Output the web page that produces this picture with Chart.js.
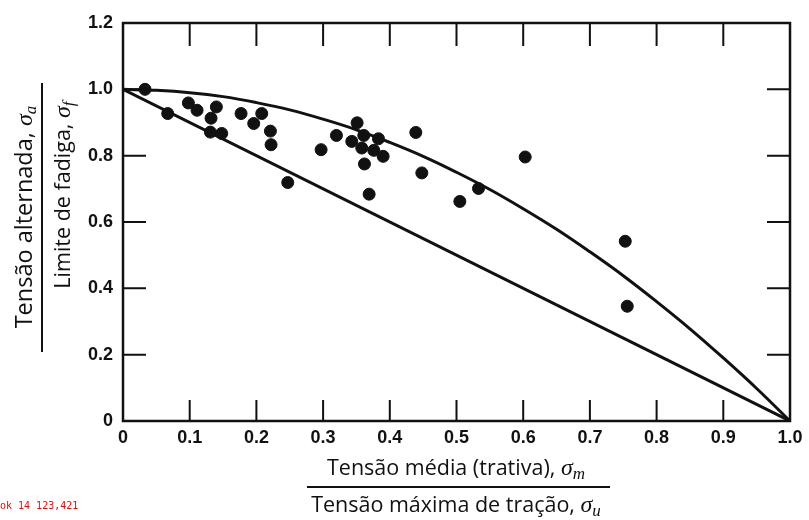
<!DOCTYPE html>
<html>
<head>
<meta charset="utf-8">
<script src="https://cdn.jsdelivr.net/npm/chart.js@4/dist/chart.umd.min.js"></script>
<style>
  body { margin: 0; background: #fff; }
  #wrap { position: relative; width: 809px; height: 520px; }
  .t { position: absolute; width: 400px; text-align: center; white-space: nowrap; font-family: "Open Sans", sans-serif; font-size: 21.5px; color: #111; line-height: 24px; height: 24px; }
  .t .s { font-family: "Liberation Serif", serif; font-style: italic; font-size: 24px; }
  .t sub { font-family: "Liberation Serif", serif; font-style: italic; font-size: 17px; vertical-align: -4px; line-height: 0; }
  .v { transform: rotate(-90deg); }
  .bar { position: absolute; background: #111; }
  #dbg { position: absolute; left: 0; top: 500px; font: 10px monospace; color: red; }
</style>
</head>
<body>
<div id="wrap">
  <canvas id="grafico" width="809" height="520"></canvas>
  <div class="t" style="left:256px; top:455px;">Tensão média (trativa), <span class="s">σ</span><sub>m</sub></div>
  <div class="bar" style="left:307px; top:486px; width:303px; height:2px;"></div>
  <div class="t" style="left:256px; top:492px;">Tensão máxima de tração, <span class="s">σ</span><sub>u</sub></div>

  <div class="t v" style="left:-177px; top:205px; font-size:23.5px;">Tensão alternada, <span class="s">σ</span><sub>a</sub></div>
  <div class="bar" style="left:41px; top:83px; width:2px; height:269px;"></div>
  <div class="t v" style="left:-138px; top:183px;">Limite de fadiga, <span class="s">σ</span><sub>f</sub></div>
  <div id="dbg"></div>
</div>
<script>
// pontos experimentais (razão média / razão alternada)
const razaoMedia = [0.033, 0.067, 0.098, 0.111, 0.140, 0.132, 0.131, 0.148, 0.177, 0.196, 0.208,
                    0.221, 0.222, 0.247, 0.297, 0.320, 0.351, 0.343, 0.361, 0.383, 0.358, 0.376,
                    0.390, 0.362, 0.369, 0.439, 0.448, 0.505, 0.533, 0.603, 0.753, 0.756];
const razaoAlternada = [1.000, 0.927, 0.959, 0.937, 0.947, 0.913, 0.871, 0.867, 0.927, 0.897, 0.927,
                        0.874, 0.833, 0.719, 0.818, 0.861, 0.899, 0.843, 0.861, 0.851, 0.823, 0.816,
                        0.798, 0.775, 0.684, 0.870, 0.748, 0.662, 0.701, 0.796, 0.542, 0.346];

// curvas
const curvaX = [0, 0.05, 0.1, 0.15, 0.2, 0.25, 0.3, 0.35, 0.4, 0.45, 0.5,
                0.55, 0.6, 0.65, 0.7, 0.75, 0.8, 0.85, 0.9, 0.95, 1.0];
const gerberY = [1.0, 0.997, 0.99, 0.978, 0.96, 0.938, 0.91, 0.878, 0.84, 0.798, 0.75,
                 0.698, 0.64, 0.578, 0.51, 0.438, 0.36, 0.278, 0.19, 0.098, 0];
const goodmanX = [0, 1.0];
const goodmanY = [1.0, 0];

const xTicks = ["0", "0.1", "0.2", "0.3", "0.4", "0.5", "0.6", "0.7", "0.8", "0.9", "1.0"];
const yTicks = ["0", "0.2", "0.4", "0.6", "0.8", "1.0", "1.2"];

const pares = (xs, ys) => xs.map((x, i) => ({ x, y: ys[i] }));
const log = [];

// moldura e marcas de escala para dentro
const moldura = {
    id: "moldura",
    afterDraw(chart) {
        try {
            const { ctx, chartArea: a } = chart;
            const sx = chart.scales.x, sy = chart.scales.y;
            ctx.save();
            ctx.strokeStyle = "#111111";
            ctx.lineWidth = 2;
            let n = 0;
            xTicks.slice(1, -1).forEach(lbl => {
                const px = sx.getPixelForValue(Number(lbl));
                ctx.beginPath();
                ctx.moveTo(px, a.bottom); ctx.lineTo(px, a.bottom - 21);
                ctx.moveTo(px, a.top); ctx.lineTo(px, a.top + 23);
                ctx.stroke();
                n++;
            });
            yTicks.slice(1, -1).forEach(lbl => {
                const py = sy.getPixelForValue(Number(lbl));
                ctx.beginPath();
                ctx.moveTo(a.left, py); ctx.lineTo(a.left + 23, py);
                ctx.moveTo(a.right, py); ctx.lineTo(a.right - 23, py);
                ctx.stroke();
                n++;
            });
            ctx.lineWidth = 2.5;
            ctx.strokeRect(a.left, a.top, a.right - a.left, a.bottom - a.top);
            ctx.restore();
            log.push("ok " + n + " " + Math.round(a.left) + "," + Math.round(a.bottom));
        } catch (e) {
            log.push("err " + e.message);
        }
        document.getElementById("dbg").textContent = log.join(" | ");
    }
};

new Chart(document.getElementById("grafico").getContext("2d"), {
    type: "scatter",
    data: {
        datasets: [
            {
                label: "Dados",
                data: pares(razaoMedia, razaoAlternada),
                backgroundColor: "#111",
                borderColor: "#111",
                pointRadius: 6,
                pointHoverRadius: 6
            },
            {
                label: "Gerber",
                data: pares(curvaX, gerberY),
                showLine: true,
                borderColor: "#111",
                borderWidth: 3,
                pointRadius: 0,
                tension: 0.4
            },
            {
                label: "Goodman",
                data: pares(goodmanX, goodmanY),
                showLine: true,
                borderColor: "#111",
                borderWidth: 3,
                pointRadius: 0
            }
        ]
    },
    options: {
        responsive: false,
        animation: false,
        layout: { padding: { top: 23, right: 19, left: 0, bottom: 0 } },
        plugins: { legend: { display: false }, tooltip: { enabled: false } },
        scales: {
            x: {
                type: "linear",
                min: 0,
                max: 1,
                afterFit(scale) { scale.height = 99; },
                grid: { display: false, drawTicks: false },
                border: { display: false },
                ticks: {
                    stepSize: 0.1,
                    padding: 6,
                    color: "#111",
                    font: { family: "Liberation Sans", size: 18, weight: "bold" },
                    maxRotation: 0,
                    callback: (v, i) => xTicks[i]
                }
            },
            y: {
                min: 0,
                max: 1.2,
                afterFit(scale) { scale.width = 123; },
                grid: { display: false, drawTicks: false },
                border: { display: false },
                ticks: {
                    stepSize: 0.2,
                    padding: 10,
                    color: "#111",
                    font: { family: "Liberation Sans", size: 18, weight: "bold" },
                    callback: (v, i) => yTicks[i]
                }
            }
        }
    },
    plugins: [moldura]
});
</script>
</body>
</html>
